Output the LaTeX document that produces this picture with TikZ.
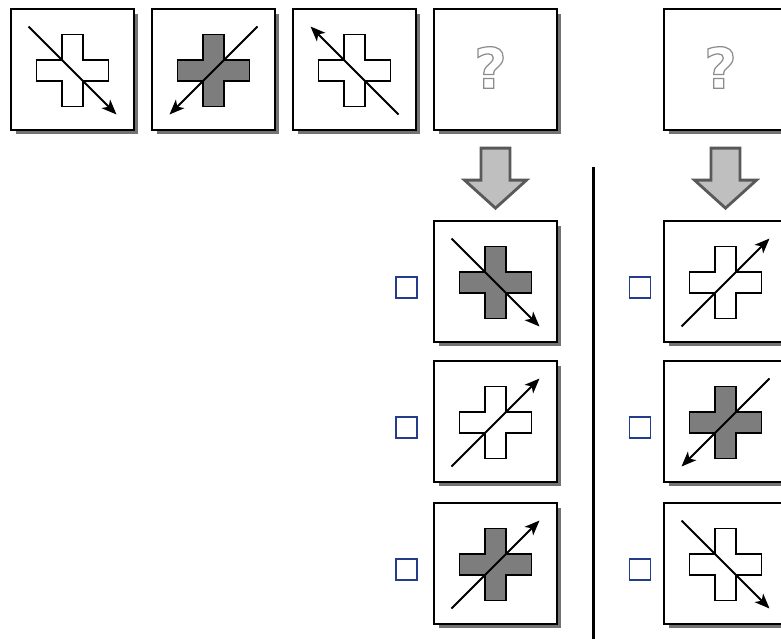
\documentclass[tikz,border=0pt]{standalone}
\usepackage{fontspec}
\usetikzlibrary{arrows.meta,shadows}
\newfontfamily\qfont{DejaVu Sans}
\definecolor{crossgray}{RGB}{125,125,125}
\definecolor{checkblue}{RGB}{35,60,140}
\newcommand\outlined[1]{\special{pdf:literal 1 Tr 0.7 w}#1\special{pdf:literal 0 Tr}}
\newcommand\crossfig[4]{%
  \draw[crossline, fill=#2] ([shift={(-10.5,-35)}]#1.center) -- ++(21,0) -- ++(0,25.5) -- ++(25.5,0)
    -- ++(0,21) -- ++(-25.5,0) -- ++(0,25.5) -- ++(-21,0) -- ++(0,-25.5) -- ++(-25.5,0)
    -- ++(0,-21) -- ++(25.5,0) -- cycle;
  \draw[diagarrow] ([shift={(#3)}]#1.center) -- ([shift={(#4)}]#1.center);
}
\newcommand\downarrowfig[1]{%
  \draw[downarrow] ([shift={(-14.5,17)}]#1.south) -- ++(29,0) -- ++(0,32) -- ++(16.5,0)
    -- ++(-31,28) -- ++(-31,-28) -- ++(16.5,0) -- cycle;
}
\begin{document}
\begin{tikzpicture}[
  x=0.02cm, y=-0.02cm,
  panel/.style={draw=black, fill=white, line width=1.3pt, minimum width=2.46cm, minimum height=2.42cm, inner sep=0pt,
    drop shadow={shadow xshift=0.09cm, shadow yshift=-0.09cm, fill=black!55, opacity=1}},
  tickbox/.style={draw=checkblue, fill=white, line width=1pt, minimum size=0.42cm, inner sep=0pt},
  crossline/.style={draw=black, line width=1.1pt, line join=miter},
  diagarrow/.style={-{Stealth[length=3mm,width=2.4mm,inset=0.8mm]}, line width=1.1pt, draw=black},
  downarrow/.style={draw=black!65, fill=black!25, line width=1.6pt, line join=miter},
  qmark/.style={font=\qfont\bfseries\fontsize{32}{32}\selectfont, text=black!45, inner sep=0pt},
  divider/.style={draw=black, line width=1.7pt}
]
\path[use as bounding box, fill=white] (0,0) rectangle (781,639);
\clip (0,0) rectangle (781,639);

\node[panel] (p1) at (72.5,69.5) {};
\node[panel] (p2) at (213.5,69.5) {};
\node[panel] (p3) at (354.5,69.5) {};
\node[panel] (q1) at (495.5,69.5) {};
\node[panel] (q2) at (725.5,69.5) {};
\node[qmark] (q1mark) at ([shift={(-5,-2)}]q1.center) {\outlined{?}};
\node[qmark] (q2mark) at ([shift={(-5,-2)}]q2.center) {\outlined{?}};

\crossfig{p1}{white}{-44,-43}{44,45}
\crossfig{p2}{crossgray}{44,-43}{-44,45}
\crossfig{p3}{white}{44,45}{-44,-43}

\downarrowfig{q1}
\downarrowfig{q2}

\coordinate (divtop) at (593,167);
\coordinate (divbot) at (593,640);
\draw[divider] (divtop) -- (divbot);

\node[panel] (a1) at (495.5,281.5) {};
\node[panel] (a2) at (495.5,421.5) {};
\node[panel] (a3) at (495.5,563.5) {};
\node[panel] (b1) at (725.5,281.5) {};
\node[panel] (b2) at (725.5,421.5) {};
\node[panel] (b3) at (725.5,563.5) {};

\crossfig{a1}{crossgray}{-44,-43}{44,45}
\crossfig{a2}{white}{-44,45}{44,-43}
\crossfig{a3}{crossgray}{-44,45}{44,-43}
\crossfig{b1}{white}{-44,45}{44,-43}
\crossfig{b2}{crossgray}{44,-43}{-44,45}
\crossfig{b3}{white}{-44,-43}{44,45}

\node[tickbox] (ta1) at (406.5,287.5) {};
\node[tickbox] (ta2) at (406.5,427.5) {};
\node[tickbox] (ta3) at (406.5,569.5) {};
\node[tickbox] (tb1) at (640,287.5) {};
\node[tickbox] (tb2) at (640,427.5) {};
\node[tickbox] (tb3) at (640,569.5) {};
\end{tikzpicture}
\end{document}
